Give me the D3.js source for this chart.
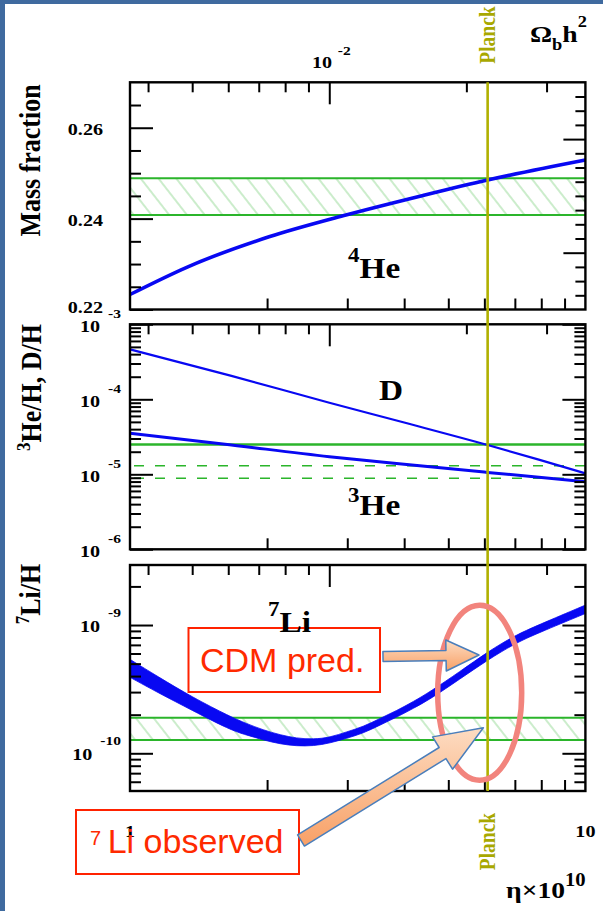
<!DOCTYPE html>
<html>
<head>
<meta charset="utf-8">
<script src="https://cdnjs.cloudflare.com/ajax/libs/d3/7.8.5/d3.min.js"></script>
<style>
  body { margin: 0; background: #fff; }
  svg { display: block; }
  .serif { font-family: "Liberation Serif", "Times New Roman", serif; font-weight: bold; }
  .sans { font-family: "Liberation Sans", Arial, sans-serif; }
</style>
</head>
<body>
<script>
// eta x 10^10 on the bottom axis, Omega_b h^2 on the top one
var planckEta = 6.1
var etaPerOmega = 273.9
var etaTicks = [2, 3, 4, 5, 6, 7, 8, 9]
var etaLabels = ['1', '10']
var omegaMinor = [0.004, 0.005, 0.006, 0.007, 0.008, 0.009, 0.02, 0.03]
var omegaMajor = [0.01]

// 4He mass fraction
var heEta = [1, 1.34, 2.02, 2.98, 4.4, 6.1, 10]
var heMass = [0.2233, 0.2294, 0.2360, 0.2408, 0.2451, 0.2485, 0.2529]
var heObs = [0.2408, 0.2489]
var heMajor = [0.22, 0.24, 0.26]
var heMinor = [0.225, 0.23, 0.235, 0.245, 0.25, 0.255, 0.265]
var heLabels = ['0.22', '0.24', '0.26']
var heRightMajor = [4, 12]
var heRightMinor = [1, 2, 3, 5, 6, 7, 8, 9, 10, 11, 13, 14, 15]

// D/H and 3He/H
var dEta = [1, 1.67, 2.74, 4.0, 6.1, 7.9, 10]
var dRatio = [4.64e-4, 2.05e-4, 9.0e-5, 4.9e-5, 2.46e-5, 1.57e-5, 1.03e-5]
var he3Eta = [1, 1.6, 2.74, 4.0, 6.1, 10]
var he3Ratio = [3.52e-5, 2.54e-5, 1.72e-5, 1.36e-5, 1.06e-5, 7.97e-6]
var dObs = 2.5e-5
var he3Obs = [8.85e-6, 1.30e-5]
var dExps = [-3, -4, -5, -6]

// 7Li/H band
var liEta = [1, 1.15, 1.37, 1.66, 1.8, 1.96, 2.14, 2.32, 2.53, 2.75, 2.99, 3.25, 3.54, 3.85, 4.19, 4.56, 5.3, 6.1, 7.0, 7.82, 10]
var liHigh = [5.40e-10, 3.97e-10, 2.74e-10, 1.93e-10, 1.71e-10, 1.52e-10, 1.39e-10, 1.31e-10, 1.285e-10, 1.33e-10, 1.47e-10, 1.61e-10, 1.87e-10, 2.15e-10, 2.53e-10, 3.02e-10, 4.33e-10, 6.19e-10, 8.28e-10, 9.89e-10, 1.43e-9]
var liLow = [3.91e-10, 2.98e-10, 2.16e-10, 1.52e-10, 1.39e-10, 1.27e-10, 1.18e-10, 1.14e-10, 1.14e-10, 1.20e-10, 1.31e-10, 1.43e-10, 1.66e-10, 1.91e-10, 2.24e-10, 2.64e-10, 3.79e-10, 5.34e-10, 7.17e-10, 8.57e-10, 1.23e-9]
var liObs = [1.27e-10, 1.895e-10]
var liExps = [-9, -10]

// arrow tips (eta, Li/H)
var predTip = [5.84, 5.84e-10]
var obsTip = [5.97, 1.58e-10]

var w = 603
var h = 911
var L = 130
var R = 585.4
var tops = [82.3, 324.3, 565]
var bottoms = [309.5, 549.3, 791]
var SX = 1.15

var blue = '#0808f2'
var green = '#2bb52b'
var olive = '#b0b000'

var svg = d3.select('body').append('svg').attr('width', w).attr('height', h)
svg.append('rect').attr('width', w).attr('height', h).attr('fill', '#fff')
svg.append('rect').attr('width', 5).attr('height', h).attr('fill', '#3f6a9f')
svg.append('rect').attr('width', w).attr('height', 4).attr('fill', '#3f6a9f')

var defs = svg.append('defs')
defs.append('pattern').attr('id', 'hatch')
    .attr('patternUnits', 'userSpaceOnUse')
    .attr('width', 14).attr('height', 14)
    .attr('patternTransform', 'rotate(-38)')
  .append('line')
    .attr('x1', 1).attr('y1', 0).attr('x2', 1).attr('y2', 14)
    .attr('stroke', '#98da98').attr('stroke-width', 1)
var grad = defs.append('linearGradient').attr('id', 'arrowFill')
    .attr('x1', 0).attr('y1', 0).attr('x2', 0).attr('y2', 1)
grad.append('stop').attr('offset', '0%').attr('stop-color', '#fddcc2')
grad.append('stop').attr('offset', '100%').attr('stop-color', '#f8a066')

var x = d3.scaleLog().domain([1, 10]).range([L, R])
var xOmega = d3.scaleLog().domain([1 / etaPerOmega, 10 / etaPerOmega]).range([L, R])
var yHe = d3.scaleLinear().domain([0.22, 0.27]).range([bottoms[0], tops[0]])
var yHeR = d3.scaleLinear().domain([0, 16]).range([bottoms[0], tops[0]])
var yD = d3.scaleLog().domain([1e-6, 1e-3]).range([bottoms[1], tops[1]])
var yLi = d3.scaleLog().domain([Math.pow(10, -10.294), Math.pow(10, -8.532)]).range([bottoms[2], tops[2]])

function zip (a, b) {
  return a.map(function (d, i) { return [d, b[i]] })
}

function isDecade (v) {
  var l = Math.log10(v)
  return Math.abs(l - Math.round(l)) < 1e-6
}

// observed hatched band
function band (y, lo, hi) {
  svg.append('rect')
    .attr('x', L).attr('width', R - L)
    .attr('y', y(hi)).attr('height', y(lo) - y(hi))
    .attr('fill', 'url(#hatch)')
  ;[lo, hi].forEach(function (v) {
    svg.append('line')
      .attr('x1', L).attr('x2', R).attr('y1', y(v)).attr('y2', y(v))
      .attr('stroke', green).attr('stroke-width', 2)
  })
}

// PANEL 1: 4He
band(yHe, heObs[0], heObs[1])
svg.append('path')
  .datum(zip(heEta, heMass))
  .attr('d', d3.line().x(function (d) { return x(d[0]) }).y(function (d) { return yHe(d[1]) }).curve(d3.curveMonotoneX))
  .attr('fill', 'none').attr('stroke', blue).attr('stroke-width', 3.6)

// PANEL 2: D and 3He
svg.append('line')
  .attr('x1', L).attr('x2', R).attr('y1', yD(dObs)).attr('y2', yD(dObs))
  .attr('stroke', green).attr('stroke-width', 2.5)
he3Obs.forEach(function (v) {
  svg.append('line')
    .attr('x1', L + 4).attr('x2', R).attr('y1', yD(v)).attr('y2', yD(v))
    .attr('stroke', green).attr('stroke-width', 1.6).attr('stroke-dasharray', '10,11')
})
var logLine = d3.line().x(function (d) { return x(d[0]) }).y(function (d) { return yD(d[1]) }).curve(d3.curveMonotoneX)
svg.append('path').datum(zip(dEta, dRatio)).attr('d', logLine)
  .attr('fill', 'none').attr('stroke', blue).attr('stroke-width', 2.2)
svg.append('path').datum(zip(he3Eta, he3Ratio)).attr('d', logLine)
  .attr('fill', 'none').attr('stroke', blue).attr('stroke-width', 3)

// PANEL 3: 7Li
band(yLi, liObs[0], liObs[1])
svg.append('path')
  .datum(liEta.map(function (e, i) { return [e, liLow[i], liHigh[i]] }))
  .attr('d', d3.area()
    .x(function (d) { return x(d[0]) })
    .y0(function (d) { return yLi(d[1]) })
    .y1(function (d) { return yLi(d[2]) })
    .curve(d3.curveBasis))
  .attr('fill', blue).attr('stroke', blue).attr('stroke-width', 0.8)

// FRAMES AND TICKS
function ticks (axis, tx, ty) {
  svg.append('g')
    .attr('transform', 'translate(' + tx + ',' + ty + ')')
    .call(axis)
    .call(function (g) {
      g.select('.domain').remove()
      g.selectAll('line').attr('stroke', '#000').attr('stroke-width', 2)
    })
}

for (var p = 0; p < 3; p++) {
  ticks(d3.axisTop(xOmega).tickValues(omegaMinor).tickSize(-10).tickFormat(''), 0, tops[p])
  ticks(d3.axisTop(xOmega).tickValues(omegaMajor).tickSize(-22).tickFormat(''), 0, tops[p])
  ticks(d3.axisBottom(x).tickValues(etaTicks).tickSize(-11).tickFormat(''), 0, bottoms[p])
}

ticks(d3.axisLeft(yHe).tickValues(heMinor).tickSize(-11).tickFormat(''), L, 0)
ticks(d3.axisLeft(yHe).tickValues(heMajor).tickSize(-23).tickFormat(''), L, 0)
ticks(d3.axisRight(yHeR).tickValues(heRightMinor).tickSize(-10).tickFormat(''), R, 0)
ticks(d3.axisRight(yHeR).tickValues(heRightMajor).tickSize(-22).tickFormat(''), R, 0)

;[yD, yLi].forEach(function (y) {
  var all = y.ticks()
  var major = all.filter(isDecade)
  var minor = all.filter(function (v) { return !isDecade(v) })
  ticks(d3.axisLeft(y).tickValues(minor).tickSize(-11).tickFormat(''), L, 0)
  ticks(d3.axisLeft(y).tickValues(major).tickSize(-23).tickFormat(''), L, 0)
  ticks(d3.axisRight(y).tickValues(minor).tickSize(-11).tickFormat(''), R, 0)
  ticks(d3.axisRight(y).tickValues(major).tickSize(-23).tickFormat(''), R, 0)
})

for (var q = 0; q < 3; q++) {
  svg.append('rect')
    .attr('x', L).attr('y', tops[q])
    .attr('width', R - L).attr('height', bottoms[q] - tops[q])
    .attr('fill', 'none').attr('stroke', '#000').attr('stroke-width', 2.4)
}

// Planck line
svg.append('line')
  .attr('x1', x(planckEta)).attr('x2', x(planckEta))
  .attr('y1', tops[0]).attr('y2', bottoms[2])
  .attr('stroke', olive).attr('stroke-width', 2.6)

// TEXT
function stext (tx, ty, anchor, size, rot) {
  return svg.append('g')
    .attr('transform', 'translate(' + tx + ',' + ty + ') scale(' + SX + ',1)' + (rot ? ' rotate(-90)' : ''))
    .append('text')
    .attr('class', 'serif')
    .attr('text-anchor', anchor)
    .attr('font-size', size)
}

function powLabel (tx, ty, anchor, exp, gap, rise) {
  var t = stext(tx, ty, anchor, 17.5)
  t.append('tspan').text('10')
  t.append('tspan').attr('dx', gap).attr('dy', -rise).attr('font-size', 13.5).text(exp)
  return t
}

heMajor.forEach(function (v, i) {
  var b = Math.min(yHe(v) + 7.3, bottoms[0] + 3.8)
  stext(103, b, 'end', 17.5).text(heLabels[i])
})
dExps.forEach(function (e) {
  var yy = yD(Math.pow(10, e))
  var b = Math.max(yy + 7.4, tops[1] + 1)
  powLabel(121, b, 'end', String(e), 7, 14)
})
liExps.forEach(function (e) {
  powLabel(121, yLi(Math.pow(10, e)) + 7, 'end', String(e), 7, 15)
})

powLabel(xOmega(omegaMajor[0]) + 2, 68.3, 'middle', '-2', 5, 13)

etaLabels.forEach(function (s) {
  if (s === '1') return
  stext(x(+s), 836.7, 'middle', 17.5).text(s)
})

var om = stext(530, 42, 'start', 24)
om.append('tspan').text('\u03A9')
om.append('tspan').attr('dy', 8).attr('font-size', 16).text('b')
om.append('tspan').attr('dy', -8).text('h')
om.append('tspan').attr('dy', -15).attr('font-size', 16).text('2')

var et = stext(506, 898, 'start', 24)
et.append('tspan').text('\u03B7\u00D710')
et.append('tspan').attr('dy', -12).attr('font-size', 18).text('10')

stext(495, 35, 'middle', 19.5, true).attr('fill', '#a8a800').text('Planck')
stext(495, 841.5, 'middle', 19.5, true).attr('fill', '#a8a800').text('Planck')

stext(40, 160.5, 'middle', 26, true).text('Mass fraction')
var t2 = stext(41, 387.5, 'middle', 26, true)
t2.append('tspan').attr('font-size', 17).attr('dy', -10).text('3')
t2.append('tspan').attr('dy', 10).text('He/H, D/H')
var t3 = stext(40, 594, 'middle', 26, true)
t3.append('tspan').attr('font-size', 17).attr('dy', -10).text('7')
t3.append('tspan').attr('dy', 10).text('Li/H')

var l4 = stext(348, 278, 'start', 29)
l4.append('tspan').attr('font-size', 20).attr('dy', -16).text('4')
l4.append('tspan').attr('dy', 16).text('He')
stext(379, 400, 'start', 29).text('D')
var l3 = stext(348, 515, 'start', 29)
l3.append('tspan').attr('font-size', 20).attr('dy', -13).text('3')
l3.append('tspan').attr('dy', 13).text('He')

// ANNOTATIONS
svg.append('rect')
  .attr('x', 188.5).attr('y', 628).attr('width', 191.5).attr('height', 64)
  .attr('fill', '#fff').attr('stroke', '#ff2200').attr('stroke-width', 2)
svg.append('text').attr('class', 'sans')
  .attr('x', 200).attr('y', 671.7).attr('font-size', 34).attr('fill', '#ff2a00')
  .text('CDM pred.')

var l7 = stext(268, 632, 'start', 29)
l7.append('tspan').attr('font-size', 20).attr('dy', -16).text('7')
l7.append('tspan').attr('dy', 16).text('Li')

svg.append('rect')
  .attr('x', 76).attr('y', 810).attr('width', 223).attr('height', 64)
  .attr('fill', '#fff').attr('stroke', '#ff2200').attr('stroke-width', 2)
stext(x(+etaLabels[0]), 836.7, 'middle', 17.5).text(etaLabels[0])
svg.append('text').attr('class', 'sans')
  .attr('x', 90).attr('y', 845).attr('font-size', 20).attr('fill', '#ff2a00')
  .text('7')
svg.append('text').attr('class', 'sans')
  .attr('x', 107.7).attr('y', 853.3).attr('font-size', 34).attr('fill', '#ff2a00')
  .text('Li observed')

svg.append('ellipse')
  .attr('cx', 479.7).attr('cy', 692.7).attr('rx', 42).attr('ry', 87.5)
  .attr('fill', 'none').attr('stroke', '#f2847d').attr('stroke-width', 5.5)

function arrow (tail, tip, sw, hl, hw) {
  var dx = tip[0] - tail[0]
  var dy = tip[1] - tail[1]
  var len = Math.hypot(dx, dy)
  var ux = dx / len
  var uy = dy / len
  var nx = -uy
  var ny = ux
  var bx = tip[0] - ux * hl
  var by = tip[1] - uy * hl
  var pts = [
    [tail[0] + nx * sw / 2, tail[1] + ny * sw / 2],
    [bx + nx * sw / 2, by + ny * sw / 2],
    [bx + nx * hw, by + ny * hw],
    tip,
    [bx - nx * hw, by - ny * hw],
    [bx - nx * sw / 2, by - ny * sw / 2],
    [tail[0] - nx * sw / 2, tail[1] - ny * sw / 2]
  ]
  svg.append('polygon')
    .attr('points', pts.map(function (p) { return p.join(',') }).join(' '))
    .attr('fill', 'url(#arrowFill)').attr('stroke', '#4a7ebb').attr('stroke-width', 1.5)
    .attr('stroke-linejoin', 'round')
}

arrow([383, 656.5], [x(predTip[0]), yLi(predTip[1])], 10, 33, 15.5)
arrow([301, 840.5], [x(obsTip[0]), yLi(obsTip[1])], 13, 48, 19)
</script>
</body>
</html>
